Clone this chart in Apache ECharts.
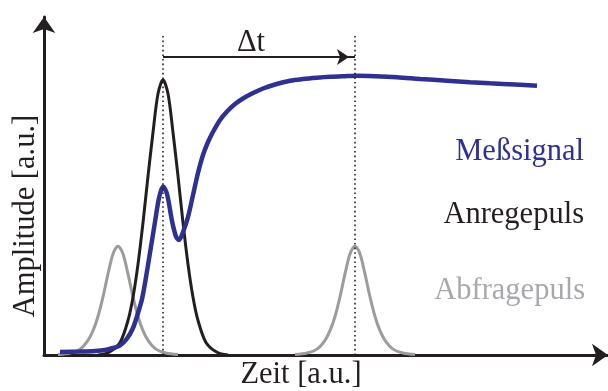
<!DOCTYPE html>
<html>
<head>
<meta charset="utf-8">
<script src="https://cdn.jsdelivr.net/npm/echarts@6/dist/echarts.min.js"></script>
<style>
  html, body { margin: 0; padding: 0; background: #ffffff; }
  #chart { width: 608px; height: 391px; }
</style>
</head>
<body>
<div id="chart"></div>
<script>
// Pump–probe scheme: time and amplitude both in arbitrary units (0..100).
const anregeCenter = 21.1;    // arrival of the pump pulse
const abfrageCenter = 55.14;  // arrival of the delayed probe pulse
const markerTop = 95.3;       // upper end of the dotted time markers
const deltaLevel = 88.2;      // height of the Δt arrow

const seriesNames = ['Meßsignal', 'Anregepuls', 'Abfragepuls'];
const axisNames = ['Zeit [a.u.]', 'Amplitude [a.u.]'];
const deltaName = 'Δt';

// Pump pulse (black)
const anregepuls = [
  [9.58, 0], [11.53, 0.8], [13.48, 3.7], [14.89, 10.2], [15.78, 17.1],
  [16.67, 26.9], [17.55, 39.1], [18.44, 52.9], [19.33, 65.9], [20.21, 77.3],
  [21.10, 81.4],
  [21.99, 77.3], [22.87, 65.9], [23.76, 52.9], [24.65, 39.1], [25.53, 26.9],
  [26.42, 17.1], [27.31, 10.2], [28.72, 3.7], [30.67, 0.8], [32.62, 0]
];

// Probe pulse, early position (grey)
const abfragepulsFrueh = [
  [2.48, 0.16], [4.61, 0.61], [6.38, 1.74], [7.80, 4.35], [8.69, 7.19],
  [9.57, 11.4], [10.46, 17.2], [11.35, 24.0], [12.23, 29.9], [13.12, 32.2],
  [14.01, 29.9], [14.89, 24.0], [15.78, 17.2], [16.67, 11.4], [17.55, 7.19],
  [18.44, 4.35], [19.86, 1.74], [21.63, 0.61], [23.76, 0.16]
];

// Probe pulse, delayed position (grey)
const abfragepulsSpaet = [
  [44.50, 0.16], [46.63, 0.61], [48.40, 1.74], [49.82, 4.35], [50.71, 7.19],
  [51.60, 11.4], [52.48, 17.2], [53.37, 24.0], [54.25, 29.9], [55.14, 32.2],
  [56.03, 29.9], [56.91, 24.0], [57.80, 17.2], [58.69, 11.4], [59.57, 7.19],
  [60.46, 4.35], [61.88, 1.74], [63.65, 0.61], [65.78, 0.16]
];

// Measured signal (blue)
const messsignal = [
  [2.84, 0.89], [6.38, 1.01], [9.04, 1.18], [10.82, 1.48], [12.23, 2.07],
  [13.48, 2.81], [14.72, 4.88], [15.78, 7.99], [16.67, 12.43], [17.38, 16.57],
  [17.91, 21.30], [18.79, 30.18], [19.68, 39.35], [20.39, 46.45], [21.10, 49.85],
  [21.81, 47.63], [22.70, 39.64], [23.40, 35.06], [23.94, 34.02], [24.65, 36.39],
  [25.53, 40.83], [26.42, 47.34], [27.30, 53.85], [28.19, 59.17], [29.08, 63.02],
  [29.96, 65.98], [31.21, 69.53], [32.45, 72.04], [33.87, 74.26], [35.28, 75.89],
  [37.06, 77.51], [38.83, 78.85], [40.96, 80.03], [43.62, 81.15], [45.92, 81.66],
  [48.40, 82.04], [50.71, 82.31], [53.37, 82.49], [55.50, 82.60], [58.69, 82.46],
  [62.59, 82.16], [66.67, 81.66], [71.45, 81.15], [75.53, 80.71], [79.08, 80.38],
  [83.51, 80.00], [87.41, 79.67]
];

const FONT = '"Liberation Serif", "Times New Roman", serif';
const FS = 30.5;
const INK = '#231f20';
const BLUE = '#2e3192';
const GREY = '#9c9c9c';

const axisLineStyle = {
  show: true,
  symbol: ['none', 'arrow'],
  symbolSize: [17, 16],
  lineStyle: { color: INK, width: 3 }
};

const dotted = { color: INK, width: 1.6, type: [1.6, 3] };

function textStyle(text, fill, align) {
  return { text: text, fill: fill, font: FS + 'px ' + FONT, align: align, verticalAlign: 'middle' };
}

const chart = echarts.init(document.getElementById('chart'), null, { renderer: 'canvas' });

chart.setOption({
  animation: false,
  backgroundColor: '#ffffff',
  grid: { left: 44, right: 0, top: 17, bottom: 36 },
  xAxis: {
    type: 'value', min: 0, max: 100,
    axisLine: axisLineStyle,
    axisTick: { show: false }, axisLabel: { show: false }, splitLine: { show: false }
  },
  yAxis: {
    type: 'value', min: 0, max: 100,
    axisLine: axisLineStyle,
    axisTick: { show: false }, axisLabel: { show: false }, splitLine: { show: false }
  },
  series: [
    {
      name: seriesNames[2], type: 'line', data: abfragepulsFrueh,
      showSymbol: false, smooth: 0.3, z: 2,
      lineStyle: { color: GREY, width: 3 }
    },
    {
      name: seriesNames[2] + ' ', type: 'line', data: abfragepulsSpaet,
      showSymbol: false, smooth: 0.3, z: 2,
      lineStyle: { color: GREY, width: 3 }
    },
    {
      name: seriesNames[1], type: 'line', data: anregepuls,
      showSymbol: false, smooth: 0.3, z: 3,
      lineStyle: { color: INK, width: 3 }
    },
    {
      name: seriesNames[0], type: 'line', data: messsignal,
      showSymbol: false, smooth: 0.3, z: 4,
      lineStyle: { color: BLUE, width: 4.5 },
      markLine: {
        silent: true, symbol: 'none', z: 6,
        data: [
          [{ coord: [anregeCenter, 0], lineStyle: dotted, label: { show: false } },
           { coord: [anregeCenter, markerTop] }],
          [{ coord: [abfrageCenter, 0], lineStyle: dotted, label: { show: false } },
           { coord: [abfrageCenter, markerTop] }],
          [{
             coord: [anregeCenter, deltaLevel],
             lineStyle: { color: INK, width: 2, type: 'solid' },
             label: {
               show: true, formatter: deltaName, position: 'middle',
               color: INK, fontFamily: FONT, fontSize: FS, distance: -2,
               padding: [0, 16, 0, 0]
             }
           },
           { coord: [abfrageCenter, deltaLevel], symbol: 'arrow', symbolSize: [12, 12], symbolOffset: [0, 6] }]
        ]
      }
    }
  ],
  graphic: [
    { type: 'text', x: 584, y: 152, z: 10, style: textStyle(seriesNames[0], BLUE, 'right') },
    { type: 'text', x: 584, y: 215, z: 10, style: textStyle(seriesNames[1], INK, 'right') },
    { type: 'text', x: 585, y: 291, z: 10, style: textStyle(seriesNames[2], '#a7a9ac', 'right') },
    { type: 'text', x: 301, y: 375, z: 10, style: textStyle(axisNames[0], INK, 'center') },
    { type: 'text', x: 26, y: 216, rotation: Math.PI / 2, z: 10, style: textStyle(axisNames[1], INK, 'center') }
  ]
});
</script>
</body>
</html>
